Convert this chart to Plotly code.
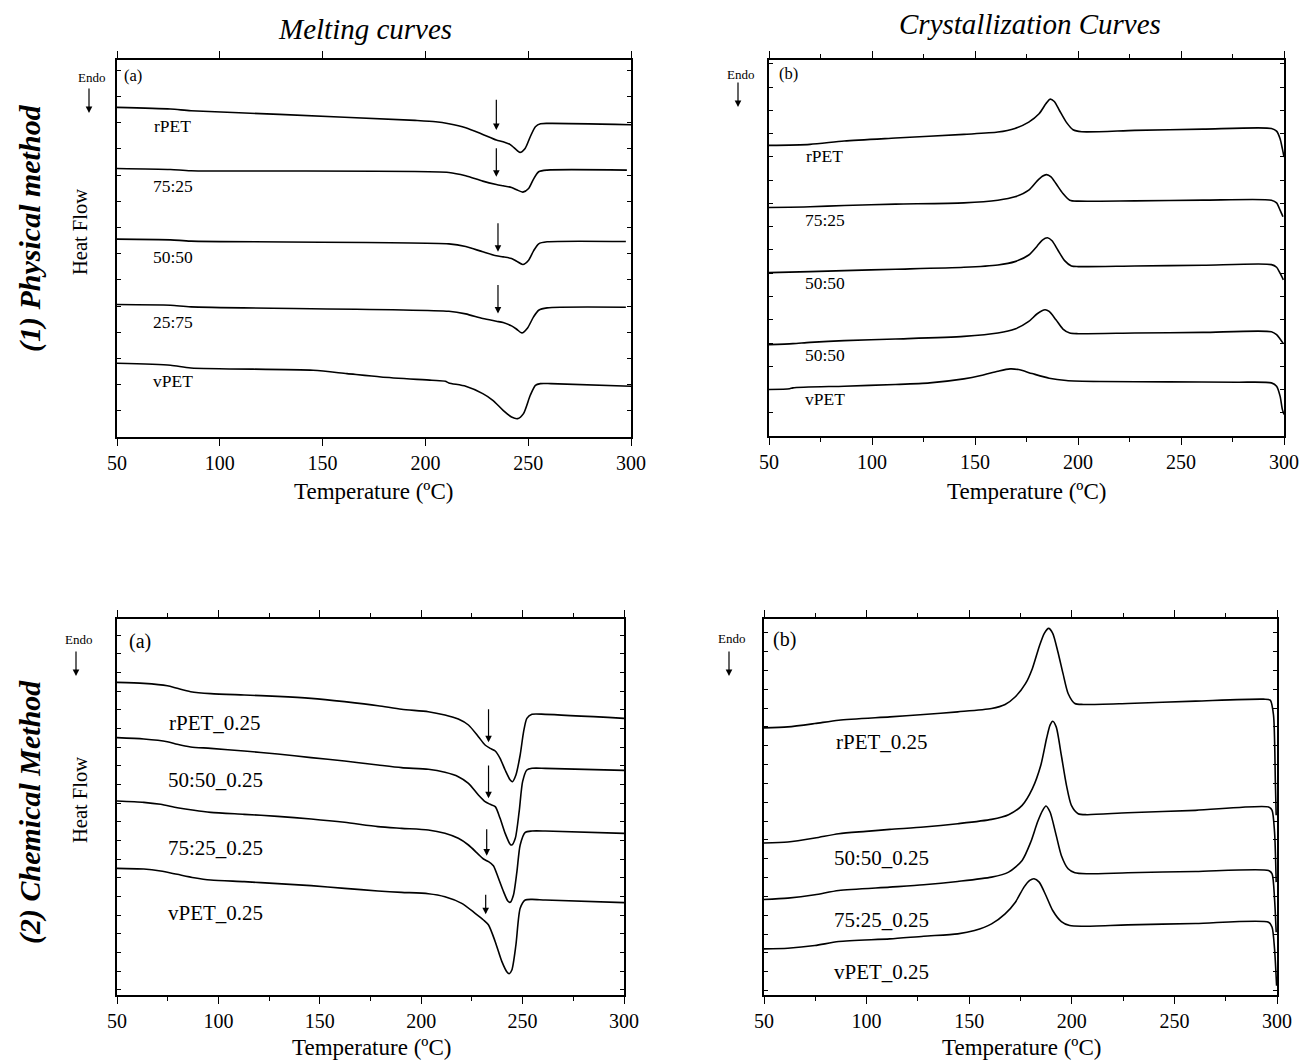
import plotly.graph_objects as go

# ---------------- (1) Physical method: melting curves (a) ----------------
PM_RPET_T = [50, 76, 86, 129, 195, 205, 211.4, 219.6, 227.9, 234.5, 237.8, 241.1, 244.4, 246, 248.5, 251, 253.5, 256, 261, 300]
PM_RPET_HF = [98.8, 98.3, 97.8, 96.7, 94.9, 94.5, 93.9, 92.7, 90.7, 89.0, 88.5, 87.7, 86.0, 85.3, 86.5, 90.0, 93.0, 93.9, 94.0, 93.6]

PM_7525_T = [50, 76, 86, 211.4, 219.6, 227.9, 234.5, 237.8, 241.9, 244.4, 247.4, 250.2, 252.6, 255.1, 259.2, 298]
PM_7525_HF = [80.5, 80.2, 79.8, 79.3, 78.3, 76.7, 75.7, 75.3, 74.8, 74.1, 73.4, 74.5, 77.3, 79.5, 80.0, 80.0]

PM_5050_T = [50, 76, 86, 211.4, 219.6, 227.9, 234.5, 237.8, 241.9, 244.4, 247.4, 250.2, 252.6, 255.1, 259.2, 297.5]
PM_5050_HF = [59.3, 59.1, 58.7, 57.9, 57.1, 55.5, 54.3, 54.0, 53.5, 52.7, 51.7, 53.0, 55.8, 57.9, 58.5, 58.6]

PM_2575_T = [50, 76, 86, 211.4, 219.6, 227.9, 234.5, 237.8, 241.9, 244.4, 246.9, 249.7, 252.6, 255.1, 259.2, 297.5]
PM_2575_HF = [39.7, 39.5, 39.0, 37.7, 36.9, 35.5, 34.7, 34.3, 33.3, 32.3, 31.2, 32.7, 36.0, 38.0, 38.7, 38.9]

PM_VPET_T = [50, 76, 86, 145.4, 161.9, 178.4, 203.1, 209.7, 211.4, 219.6, 227.9, 232.8, 237.8, 241.9, 244.9, 247.7, 251, 253.5, 255.9, 261, 300]
PM_VPET_HF = [22.1, 21.5, 20.7, 20.0, 19.0, 18.0, 17.0, 16.7, 16.2, 15.2, 13.0, 11.0, 8.0, 6.0, 5.5, 7.0, 12.5, 15.5, 16.0, 16.0, 15.2]

PM_LABELS = ["rPET", "75:25", "50:50", "25:75", "vPET"]
PM_LABEL_HF = [93.3, 75.2, 54.0, 34.5, 16.7]
# shoulder markers: temperature, arrow tip, arrow tail
PM_ARROW_T = [234.5, 234.5, 235.3, 235.3]
PM_ARROW_TIP = [92.0, 78.0, 55.5, 37.0]
PM_ARROW_TAIL = [101.5, 87.0, 64.5, 46.0]

# ---------------- (1) Physical method: crystallization curves (b) ----------------
PC_RPET_T = [50, 69.9, 86.5, 111.4, 144.6, 161.1, 169.4, 176.1, 181.1, 184.4, 186.4, 188.5, 191.0, 194.3, 197.6, 201.8, 227.5, 260.7, 293.9, 296.4, 298.1, 299.2, 300]
PC_RPET_HF = [87.5, 87.8, 88.8, 89.7, 90.8, 91.5, 92.6, 94.5, 97.0, 100.0, 101.4, 100.7, 98.0, 94.5, 92.2, 91.6, 92.0, 92.4, 92.6, 91.8, 89.5, 86.5, 84.0]

PC_7525_T = [50, 69.9, 86.5, 111.4, 144.6, 161.1, 169.4, 176.1, 180.2, 182.7, 184.7, 186.9, 189.3, 192.7, 196.0, 200.1, 227.5, 260.7, 293.9, 296.4, 298.1, 299.5]
PC_7525_HF = [68.8, 69.0, 69.4, 69.8, 70.2, 71.0, 72.0, 74.0, 76.8, 78.2, 78.7, 78.0, 76.0, 73.0, 71.0, 70.7, 70.8, 71.0, 71.0, 70.2, 68.0, 66.0]

PC_5050_T = [50, 69.9, 86.5, 111.4, 144.6, 161.1, 169.4, 176.1, 180.2, 182.7, 185.2, 187.4, 190.2, 193.5, 196.8, 200.1, 227.5, 260.7, 293.9, 296.4, 298.1, 299.7]
PC_5050_HF = [49.2, 49.5, 49.8, 50.2, 50.8, 51.5, 52.5, 54.5, 57.2, 59.0, 59.7, 58.8, 56.0, 52.8, 51.2, 51.0, 51.2, 51.4, 51.6, 50.8, 49.0, 47.0]

PC_5050B_T = [50, 61.6, 69.9, 86.5, 111.4, 144.6, 161.1, 169.4, 176.1, 180.2, 184.0, 186.0, 189.3, 192.7, 196.0, 200.1, 227.5, 260.7, 293.9, 296.4, 298.1, 299.7]
PC_5050B_HF = [27.5, 27.8, 28.2, 28.7, 29.2, 30.0, 31.0, 32.2, 34.5, 36.8, 38.0, 37.5, 35.0, 32.2, 31.0, 30.8, 31.0, 31.2, 31.4, 30.5, 29.2, 27.8]

PC_VPET_T = [50, 60.0, 61.6, 86.5, 111.4, 128.0, 144.6, 152.9, 161.1, 167.0, 171.1, 177.7, 186.0, 194.3, 210.9, 244.1, 277.3, 293.9, 296.4, 298.1, 299.2, 300]
PC_VPET_HF = [14.0, 14.2, 14.5, 15.0, 15.5, 16.0, 17.2, 18.2, 19.5, 20.2, 20.0, 18.8, 17.4, 16.7, 16.4, 16.3, 16.2, 16.0, 15.0, 12.0, 8.0, 6.5]

PC_LABELS = ["rPET", "75:25", "50:50", "50:50", "vPET"]
PC_LABEL_HF = [84.2, 65.0, 46.0, 24.5, 11.0]

# ---------------- (2) Chemical method: melting curves (a) ----------------
CM_RPET_T = [50, 63.2, 74.8, 79.7, 86.3, 96.2, 112.7, 129.2, 145.7, 162.2, 178.7, 190.3, 203.5, 211.7, 218.3, 223.3, 228.2, 231.5, 234.0, 236.5, 238.9, 241.4, 243.9, 245.0, 246.7, 248.8, 250.5, 252.1, 254.6, 261.2, 300]
CM_RPET_HF = [93.8, 93.5, 92.8, 92.0, 91.0, 90.4, 90.0, 89.6, 89.0, 88.0, 86.8, 85.7, 85.0, 84.0, 82.8, 81.0, 77.5, 75.0, 74.0, 73.2, 71.0, 67.5, 64.5, 64.0, 66.0, 72.0, 79.0, 83.0, 84.2, 84.2, 83.0]

CM_5050_T = [50, 63.2, 74.8, 79.7, 86.3, 96.2, 112.7, 129.2, 145.7, 162.2, 178.7, 190.3, 203.5, 211.7, 218.3, 223.3, 228.2, 231.5, 234.0, 236.5, 238.9, 241.4, 243.9, 244.7, 246.4, 248.3, 250.0, 252.1, 254.6, 261.2, 300]
CM_5050_HF = [77.2, 76.8, 76.0, 75.2, 74.4, 74.0, 73.2, 72.3, 71.2, 70.2, 69.0, 68.2, 67.7, 66.8, 65.5, 63.5, 60.0, 58.0, 57.2, 56.5, 53.0, 48.5, 45.2, 45.0, 47.0, 55.0, 64.0, 67.5, 68.0, 68.0, 67.4]

CM_7525_T = [50, 63.2, 71.5, 79.7, 88.0, 96.2, 112.7, 129.2, 145.7, 162.2, 178.7, 190.3, 203.5, 211.7, 218.3, 223.3, 228.2, 230.7, 233.2, 235.6, 238.1, 240.6, 242.7, 243.9, 245.5, 247.2, 248.8, 251.3, 254.6, 261.2, 300]
CM_7525_HF = [58.2, 57.8, 57.2, 56.2, 55.4, 54.8, 54.2, 53.6, 52.8, 51.8, 50.5, 50.0, 49.5, 48.5, 47.0, 45.0, 42.2, 40.8, 40.0, 38.8, 35.0, 31.0, 28.2, 27.8, 30.0, 37.0, 45.0, 48.8, 49.2, 49.2, 48.5]

CM_VPET_T = [50, 63.2, 71.5, 79.7, 88.0, 96.2, 112.7, 129.2, 145.7, 162.2, 178.7, 190.3, 203.5, 211.7, 220.0, 226.6, 230.7, 233.2, 236.5, 239.8, 242.2, 243.4, 244.7, 246.7, 248.8, 251.3, 254.6, 261.2, 300]
CM_VPET_HF = [38.0, 37.8, 37.2, 36.2, 35.2, 34.5, 34.0, 33.4, 32.8, 32.0, 31.2, 30.8, 30.4, 29.5, 27.5, 24.5, 22.5, 21.0, 16.0, 10.0, 7.0, 6.4, 7.5, 15.0, 26.0, 28.5, 28.7, 28.5, 27.7]

CM_LABELS = ["rPET_0.25", "50:50_0.25", "75:25_0.25", "vPET_0.25"]
CM_LABEL_HF = [81.5, 64.5, 44.0, 24.7]
CM_ARROW_T = [233.2, 233.2, 232.3, 231.8]
CM_ARROW_TIP = [75.8, 59.0, 41.8, 24.2]
CM_ARROW_TAIL = [86.2, 69.3, 50.2, 30.5]

# ---------------- (2) Chemical method: crystallization curves (b) ----------------
CC_RPET_T = [50, 61.6, 74.8, 86.4, 111.3, 127.8, 144.4, 160.9, 167.5, 172.5, 177.5, 180.8, 184.1, 186.6, 188.7, 190.7, 193.2, 195.7, 198.2, 201.5, 205.6, 227.2, 260.3, 293.4, 296.7, 298.3, 299.2, 299.6]
CC_RPET_HF = [80.0, 80.3, 81.3, 82.3, 83.3, 84.0, 84.8, 85.8, 87.0, 89.3, 93.3, 97.8, 104.3, 108.3, 109.8, 108.3, 102.8, 96.3, 90.3, 87.3, 87.0, 87.3, 88.0, 88.6, 88.3, 83.8, 63.8, 53.8]

CC_5050_T = [50, 61.6, 74.8, 86.4, 99.7, 111.3, 127.8, 144.4, 160.9, 169.2, 175.8, 180.8, 184.9, 187.7, 189.4, 190.7, 192.4, 194.9, 197.4, 199.8, 203.1, 207.3, 227.2, 260.3, 295.9, 297.6, 298.8, 299.6]
CC_5050_HF = [45.5, 45.8, 47.0, 48.3, 49.0, 49.6, 50.3, 51.3, 52.6, 54.0, 56.8, 61.8, 68.8, 76.8, 80.8, 82.0, 80.3, 71.8, 62.8, 56.8, 54.3, 54.0, 54.6, 55.3, 56.3, 55.3, 48.8, 33.8]

CC_7525_T = [50, 61.6, 74.8, 86.4, 111.3, 127.8, 144.4, 160.9, 169.2, 175.8, 180.0, 183.3, 185.8, 187.4, 189.4, 192.4, 194.9, 198.2, 201.5, 207.3, 227.2, 260.3, 295.9, 297.6, 298.8, 299.6]
CC_7525_HF = [28.6, 29.0, 30.0, 31.3, 32.3, 33.0, 34.0, 35.3, 36.8, 40.3, 45.8, 51.8, 55.3, 56.6, 54.8, 47.8, 41.8, 37.8, 36.6, 36.3, 36.6, 37.0, 37.3, 36.3, 28.8, 18.8]

CC_VPET_T = [50, 61.6, 74.8, 86.4, 111.3, 127.8, 144.4, 152.6, 160.9, 167.5, 172.5, 176.7, 179.5, 181.6, 184.1, 187.4, 190.7, 194.9, 199.0, 205.6, 227.2, 260.3, 295.9, 297.6, 298.8, 299.8]
CC_VPET_HF = [13.8, 14.0, 14.8, 16.0, 16.8, 17.6, 18.3, 19.3, 21.3, 24.3, 27.8, 32.3, 34.3, 34.8, 33.8, 29.8, 25.3, 22.0, 20.8, 20.6, 21.0, 21.4, 21.8, 20.3, 13.8, 2.8]

CC_LABELS = ["rPET_0.25", "50:50_0.25", "75:25_0.25", "vPET_0.25"]
CC_LABEL_HF = [75.8, 41.0, 22.6, 7.0]

X_TICKS = [50, 100, 150, 200, 250, 300]

# ---------------- figure ----------------
W, H = 1299, 1061
FONT = "Liberation Serif"


def fx(px):
    return px / W


def fy(py):
    return 1 - py / H


fig = go.Figure()

panels = [
    # axis suffix, pixel box (left, top, right, bottom), y top, y dtick, y tick0, x minor ticks
    ("", (117, 60, 631, 437), 113.0, 7.85, 0.0, False),
    ("2", (769, 60, 1284, 436), 113.2, 7.0, 0.0, True),
    ("3", (117, 619, 624, 995), 112.8, 5.6, 1.6, True),
    ("4", (764, 619, 1277, 995), 112.6, 5.64, 1.3, True),
]

curves = [
    ("", [(PM_RPET_T, PM_RPET_HF), (PM_7525_T, PM_7525_HF), (PM_5050_T, PM_5050_HF),
          (PM_2575_T, PM_2575_HF), (PM_VPET_T, PM_VPET_HF)]),
    ("2", [(PC_RPET_T, PC_RPET_HF), (PC_7525_T, PC_7525_HF), (PC_5050_T, PC_5050_HF),
           (PC_5050B_T, PC_5050B_HF), (PC_VPET_T, PC_VPET_HF)]),
    ("3", [(CM_RPET_T, CM_RPET_HF), (CM_5050_T, CM_5050_HF), (CM_7525_T, CM_7525_HF),
           (CM_VPET_T, CM_VPET_HF)]),
    ("4", [(CC_RPET_T, CC_RPET_HF), (CC_5050_T, CC_5050_HF), (CC_7525_T, CC_7525_HF),
           (CC_VPET_T, CC_VPET_HF)]),
]

for suffix, series in curves:
    for t, hf in series:
        fig.add_trace(go.Scatter(
            x=t, y=hf, mode="lines",
            line=dict(color="black", width=1.6, shape="spline", smoothing=0.7),
            xaxis="x" + suffix, yaxis="y" + suffix, showlegend=False, hoverinfo="skip",
        ))

layout_axes = {}
for suffix, (l, t, r, b), ytop, ydt, y0, minor in panels:
    xa = dict(
        domain=[fx(l), fx(r)], range=[50, 300], anchor="y" + suffix, automargin=False,
        tickvals=X_TICKS, ticks="outside", ticklen=7, tickwidth=1.3, tickcolor="black",
        showline=True, linecolor="black", linewidth=1.6, mirror="ticks",
        showgrid=False, zeroline=False,
        tickfont=dict(family=FONT, size=20, color="black"),
    )
    if minor:
        xa["minor"] = dict(dtick=25, tick0=50, ticks="outside", ticklen=4,
                           tickcolor="black", tickwidth=1.1, showgrid=False)
    ya = dict(
        domain=[fy(b), fy(t)], range=[0, ytop], anchor="x" + suffix, automargin=False,
        tick0=y0, dtick=ydt, ticks="inside", ticklen=4, tickwidth=1.1, tickcolor="black",
        showticklabels=False, showline=True, linecolor="black", linewidth=1.6,
        mirror="ticks", showgrid=False, zeroline=False,
    )
    layout_axes["xaxis" + suffix] = xa
    layout_axes["yaxis" + suffix] = ya

ann = []


def data_text(suffix, x, y, text, size, xanchor="center"):
    ann.append(dict(x=x, y=y, xref="x" + suffix, yref="y" + suffix, text=text,
                    showarrow=False, xanchor=xanchor, yanchor="middle",
                    font=dict(family=FONT, size=size, color="black")))


def paper_text(x, y, text, size, angle=0, bold=False, italic=False):
    if bold:
        text = "<b>" + text + "</b>"
    if italic:
        text = "<i>" + text + "</i>"
    ann.append(dict(x=fx(x), y=fy(y), xref="paper", yref="paper", text=text,
                    showarrow=False, xanchor="center", yanchor="middle", textangle=angle,
                    font=dict(family=FONT, size=size, color="black")))


def data_arrow(suffix, x, tip, tail):
    ann.append(dict(x=x, y=tip, ax=x, ay=tail, xref="x" + suffix, yref="y" + suffix,
                    axref="x" + suffix, ayref="y" + suffix, text="", showarrow=True,
                    arrowhead=2, arrowsize=1.1, arrowwidth=1.2, arrowcolor="black"))


def endo(x, y_text, y_tip):
    paper_text(x, y_text, "Endo", 13)
    ann.append(dict(x=fx(x - 2), y=fy(y_tip), xref="paper", yref="paper", ax=0, ay=-26,
                    text="", showarrow=True, arrowhead=2, arrowsize=1.1, arrowwidth=1.2,
                    arrowcolor="black"))


# curve labels
for name, hf in zip(PM_LABELS, PM_LABEL_HF):
    data_text("", 77, hf, name, 17.5)
for name, hf in zip(PC_LABELS, PC_LABEL_HF):
    data_text("2", 77, hf, name, 17.5)
for name, hf in zip(CM_LABELS, CM_LABEL_HF):
    data_text("3", 98.5, hf, name, 21)
for name, hf in zip(CC_LABELS, CC_LABEL_HF):
    data_text("4", 107.5, hf, name, 21)

# shoulder arrows in the melting curves
for t, tip, tail in zip(PM_ARROW_T, PM_ARROW_TIP, PM_ARROW_TAIL):
    data_arrow("", t, tip, tail)
for t, tip, tail in zip(CM_ARROW_T, CM_ARROW_TIP, CM_ARROW_TAIL):
    data_arrow("3", t, tip, tail)

# panel letters
data_text("", 52.5, 108.3, "(a)", 16.5, xanchor="left")
data_text("2", 54, 109.0, "(b)", 16.5, xanchor="left")
data_text("3", 55, 106.0, "(a)", 20, xanchor="left")
data_text("4", 53.5, 106.5, "(b)", 20, xanchor="left")

# Endo markers
endo(91, 77, 113)
endo(740, 75, 107)
endo(78, 639, 676)
endo(731, 638, 676)

# axis titles
for cx, cy in [(374, 491), (1026, 491), (371, 1047), (1021, 1047)]:
    paper_text(cx, cy, "Temperature (ºC)", 23)
paper_text(80, 232, "Heat Flow", 20.5, angle=-90)
paper_text(80, 800, "Heat Flow", 20.5, angle=-90)

# column and row headings
paper_text(365, 29, "Melting curves", 29, italic=True)
paper_text(1030, 24, "Crystallization Curves", 29, italic=True)
paper_text(30, 228, "(1) Physical method", 30, angle=-90, bold=True, italic=True)
paper_text(30, 812, "(2) Chemical Method", 30, angle=-90, bold=True, italic=True)

fig.update_layout(
    template="none",
    width=W, height=H, margin=dict(l=0, r=0, t=0, b=0, autoexpand=False),
    paper_bgcolor="white", plot_bgcolor="white",
    showlegend=False, annotations=ann, **layout_axes,
)

fig.write_html("out.html")
